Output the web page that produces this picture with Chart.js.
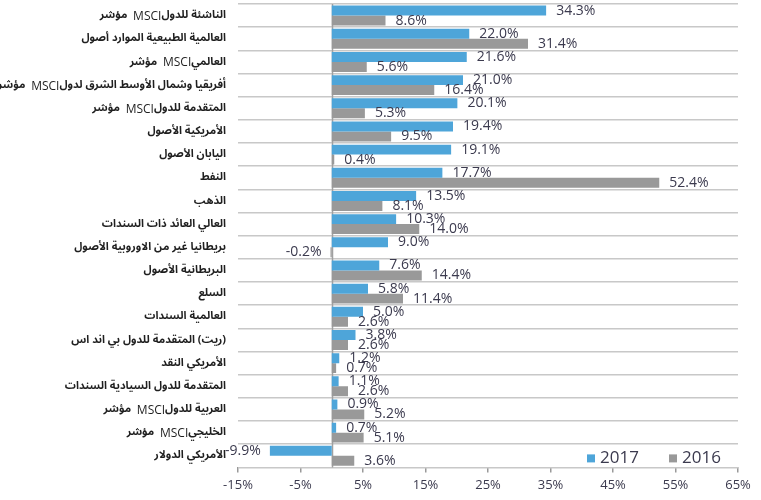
<!DOCTYPE html>
<html>
<head>
<meta charset="utf-8">
<script src="https://cdn.jsdelivr.net/npm/chart.js@4/dist/chart.umd.min.js"></script>
<style>
  html, body { margin: 0; padding: 0; background: #ffffff; }
  #wrap { width: 761px; height: 500px; position: relative; }
</style>
</head>
<body>
<div id="wrap"><canvas id="c"></canvas></div>
<script>
const categories = [
  "مؤشر  MSCIللدول الناشئة",
  "أصول الموارد الطبيعية العالمية",
  "مؤشر  MSCIالعالمي",
  "مؤشر  MSCIلدول الشرق الأوسط وشمال أفريقيا",
  "مؤشر  MSCIللدول المتقدمة",
  "الأصول الأمريكية",
  "الأصول اليابان",
  "النفط",
  "الذهب",
  "السندات ذات العائد العالي",
  "الأصول الاوروبية من غير بريطانيا",
  "الأصول البريطانية",
  "السلع",
  "السندات العالمية",
  "اس اند بي للدول المتقدمة (ريت)",
  "النقد الأمريكي",
  "السندات السيادية للدول المتقدمة",
  "مؤشر  MSCIللدول العربية",
  "مؤشر  MSCIالخليجي",
  "الدولار الأمريكي"
];
const values2017 = [34.3, 22.0, 21.6, 21.0, 20.1, 19.4, 19.1, 17.7, 13.5, 10.3, 9.0, 7.6, 5.8, 5.0, 3.8, 1.2, 1.1, 0.9, 0.7, -9.9];
const values2016 = [8.6, 31.4, 5.6, 16.4, 5.3, 9.5, 0.4, 52.4, 8.1, 14.0, -0.2, 14.4, 11.4, 2.6, 2.6, 0.7, 2.6, 5.2, 5.1, 3.6];
const seriesNames = ["2017", "2016"];
const xTickMin = -15, xTickMax = 65, xTickStep = 10;

const BLUE = '#4ea5d9';
const GRAY = '#999999';
const TEXT = '#3b3a4e';
const ARABIC_FONT = 'bold 11px "Noto Sans Arabic", "Noto Naskh Arabic", "DejaVu Sans", sans-serif';
const LATIN_FONT = '12px "Open Sans", sans-serif';

// Category labels: the reference lays the words out left-to-right in reading
// order, so each word is drawn on its own at the y position of its category tick.
const categoryLabels = {
  id: 'categoryLabels',
  afterDraw(chart) {
    const ctx = chart.ctx, ys = chart.scales.y;
    const right = ys.right - 12;
    ctx.save();
    ctx.direction = 'ltr';
    ctx.textAlign = 'left';
    ctx.textBaseline = 'middle';
    ctx.fillStyle = '#1f1f1f';
    chart.data.labels.forEach((lab, i) => {
      const y = ys.getPixelForTick(i);
      const tokens = lab.match(/\s+|[A-Za-z]+|[^\sA-Za-z]+/g) || [lab];
      const parts = tokens.map(t => {
        const latin = /^[A-Za-z]+$/.test(t);
        ctx.font = latin ? LATIN_FONT : ARABIC_FONT;
        return { t, font: ctx.font, w: ctx.measureText(t).width, space: /^\s+$/.test(t) };
      });
      const total = parts.reduce((s, p) => s + p.w, 0);
      let x = right - total;
      parts.forEach(p => {
        if (!p.space) { ctx.font = p.font; ctx.fillText(p.t, x, y + 1); }
        x += p.w;
      });
    });
    ctx.restore();
  }
};

const valueLabels = {
  id: 'valueLabels',
  afterDatasetsDraw(chart) {
    const ctx = chart.ctx;
    ctx.save();
    ctx.direction = 'ltr';
    ctx.font = '14px "Open Sans", sans-serif';
    ctx.fillStyle = TEXT;
    ctx.textBaseline = 'middle';
    chart.data.datasets.forEach((ds, di) => {
      const meta = chart.getDatasetMeta(di);
      meta.data.forEach((bar, i) => {
        const v = ds.data[i];
        const txt = v.toFixed(1) + '%';
        if (v >= 0) { ctx.textAlign = 'left'; ctx.fillText(txt, bar.x + 10, bar.y); }
        else { ctx.textAlign = 'right'; ctx.fillText(txt, bar.x - 9, bar.y); }
      });
    });
    ctx.restore();
  }
};

const zeroLine = {
  id: 'zeroLine',
  beforeDatasetsDraw(chart) {
    const ctx = chart.ctx, xs = chart.scales.x, a = chart.chartArea;
    const x0 = Math.round(xs.getPixelForValue(0)) + 0.5;
    ctx.save();
    ctx.strokeStyle = '#a0a0a0';
    ctx.lineWidth = 1.5;
    ctx.beginPath(); ctx.moveTo(x0, a.top); ctx.lineTo(x0, a.bottom); ctx.stroke();
    ctx.restore();
  }
};

const customLegend = {
  id: 'customLegend',
  afterDraw(chart) {
    const ctx = chart.ctx, a = chart.chartArea;
    const y = a.bottom - 9;
    const items = chart.data.datasets.map(d => ({ label: d.label, color: d.backgroundColor }));
    let x = a.right - 151;
    ctx.save();
    ctx.direction = 'ltr';
    ctx.font = '17px "Open Sans", sans-serif';
    ctx.textBaseline = 'middle';
    ctx.textAlign = 'left';
    items.forEach(it => {
      ctx.fillStyle = it.color;
      ctx.fillRect(x, y - 4, 8, 8);
      ctx.fillStyle = TEXT;
      ctx.fillText(it.label, x + 13, y);
      x += 82;
    });
    ctx.restore();
  }
};

new Chart(document.getElementById('c'), {
  type: 'bar',
  data: {
    labels: categories,
    datasets: [
      { label: seriesNames[0], data: values2017, backgroundColor: BLUE, categoryPercentage: 0.86, barPercentage: 1.0 },
      { label: seriesNames[1], data: values2016, backgroundColor: GRAY, categoryPercentage: 0.86, barPercentage: 1.0 }
    ]
  },
  options: {
    indexAxis: 'y',
    responsive: true,
    maintainAspectRatio: false,
    animation: false,
    layout: { padding: { left: 0, right: 23, top: 4, bottom: 2 } },
    plugins: { legend: { display: false }, tooltip: { enabled: false } },
    scales: {
      x: {
        min: xTickMin, max: xTickMax,
        ticks: {
          stepSize: xTickStep,
          callback: v => v + '%',
          color: TEXT,
          font: { family: '"Open Sans", sans-serif', size: 13 },
          padding: 5,
          maxRotation: 0
        },
        grid: { drawOnChartArea: false, drawTicks: true, tickLength: 5, color: '#999999', lineWidth: 1.5 },
        border: { display: false }
      },
      y: {
        ticks: { display: false, autoSkip: false },
        grid: { color: '#c8c8c8', lineWidth: 1.5, drawTicks: false },
        border: { display: false },
        afterFit: s => { s.width = 238; }
      }
    }
  },
  plugins: [zeroLine, valueLabels, categoryLabels, customLegend]
});
</script>
</body>
</html>
